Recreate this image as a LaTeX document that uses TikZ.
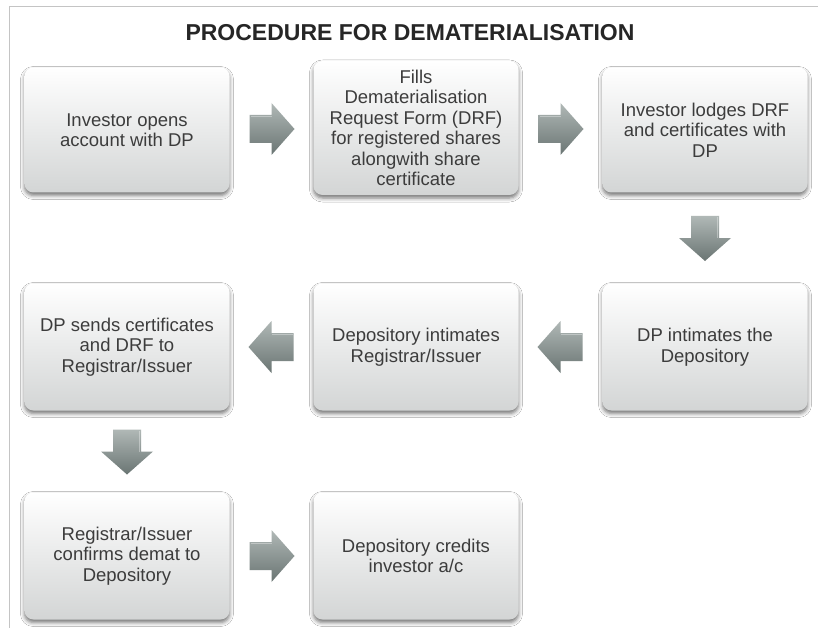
\documentclass[tikz,border=0pt]{standalone}
\usepackage{fontspec}
\setmainfont{Liberation Sans}
\usetikzlibrary{shadows.blur,calc}
\definecolor{boxbot}{HTML}{D3D5D5}
\definecolor{boxtext}{HTML}{3C3C3C}
\definecolor{titletext}{HTML}{262626}
\definecolor{arrlight}{HTML}{B0B8B6}
\definecolor{arrdark}{HTML}{6A7573}
\definecolor{framegray}{HTML}{C4C4C4}
\tikzset{
  stepbox/.style={rounded corners=9pt, minimum width=205pt, minimum height=125pt,
    top color=white, bottom color=boxbot, draw=none,
    blur shadow={shadow xshift=0pt, shadow yshift=-3pt, shadow blur radius=4pt, shadow opacity=55},
    align=center, text=boxtext, font=\fontsize{18.5}{20.5}\selectfont, inner sep=0pt},
  titlestyle/.style={font=\bfseries\fontsize{23}{26}\selectfont, text=titletext, inner sep=0pt},
  blockarrow/.pic={
    \shade[top color=arrlight, bottom color=arrdark]
      (-22,-14) -- (0,-14) -- (0,-26) -- (23,0) -- (0,26) -- (0,14) -- (-22,14) -- cycle;
    \draw[white, opacity=0.35, line width=1.2pt] (-21,-12.5) -- (0,-12.5);
  }
}
\begin{document}
\begin{tikzpicture}[x=1pt,y=-1pt]
\fill[white] (0,0) rectangle (818,628);
\useasboundingbox (0,0) rectangle (818,628);
\draw[framegray, line width=1pt] (9,628) -- (9,7) -- (818,7);
\node[titlestyle] (title) at (410,33) {PROCEDURE FOR DEMATERIALISATION};

\node[stepbox] (b1) at (127,130) {Investor opens\\account with DP};
\node[stepbox, minimum height=134pt] (b2) at (416,128) {Fills\\Dematerialisation\\Request Form (DRF)\\for registered shares\\alongwith share\\certificate};
\node[stepbox] (b3) at (705,130) {Investor lodges DRF\\and certificates with\\DP};

\node[stepbox, minimum height=127pt] (b4) at (127,347) {DP sends certificates\\and DRF to\\Registrar/Issuer};
\node[stepbox, minimum height=127pt] (b5) at (416,347) {Depository intimates\\Registrar/Issuer};
\node[stepbox, minimum height=127pt] (b6) at (705,347) {DP intimates the\\Depository};

\node[stepbox, minimum height=127pt] (b7) at (127,556) {Registrar/Issuer\\confirms demat to\\Depository};
\node[stepbox, minimum height=127pt] (b8) at (416,556) {Depository credits\\investor a/c};

\pic at ($(b1.east)!0.5!(b2.west)$) {blockarrow};
\pic at ($(b2.east)!0.5!(b3.west)$) {blockarrow};
\pic[rotate=-90] at ($(b3.south)!0.5!(b6.north)$) {blockarrow};
\pic[xscale=-1] at ($(b6.west)!0.5!(b5.east)$) {blockarrow};
\pic[xscale=-1] at ($(b5.west)!0.5!(b4.east)$) {blockarrow};
\pic[rotate=-90] at ($(b4.south)!0.5!(b7.north)$) {blockarrow};
\pic at ($(b7.east)!0.5!(b8.west)$) {blockarrow};
\end{tikzpicture}
\end{document}
